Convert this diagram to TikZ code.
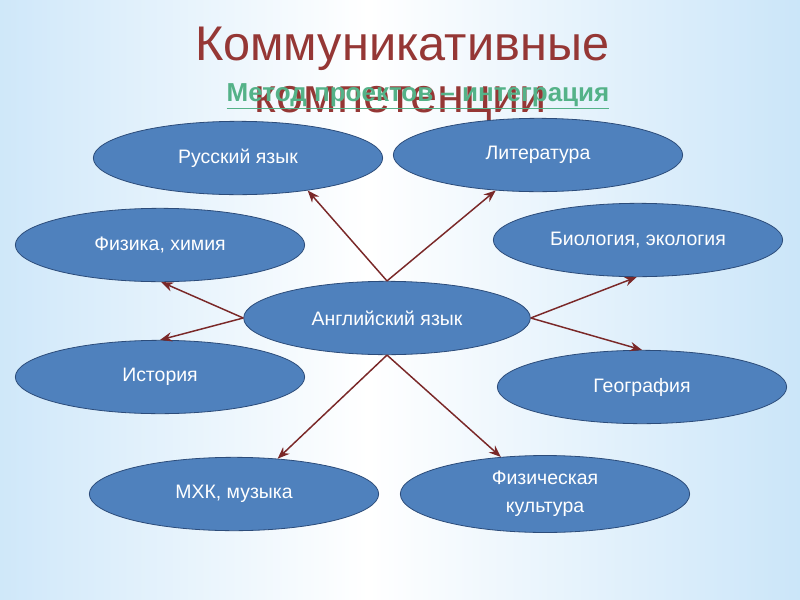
\documentclass[tikz,border=0pt]{standalone}
\usepackage{fontspec}
\setmainfont{Liberation Sans}
\usepackage{xcolor}
\usetikzlibrary{arrows.meta,shapes.geometric}
\definecolor{bgblu}{RGB}{155,206,243}
\definecolor{elfill}{RGB}{79,129,189}
\definecolor{eldraw}{RGB}{44,76,122}
\definecolor{arrred}{RGB}{122,40,40}
\definecolor{titred}{RGB}{149,55,53}
\definecolor{linkgrn}{RGB}{84,178,136}
\pgfdeclarehorizontalshading{bgshade}{100bp}{color(0bp)=(bgblu); color(48bp)=(white); color(100bp)=(bgblu)}
\tikzset{
  subj/.style={ellipse, fill=elfill, draw=eldraw, line width=0.6pt, text=white,
    minimum width=217pt, minimum height=55pt, font=\fontsize{14.6}{16}\selectfont, align=center},
  conn/.style={draw=arrred, line width=1.1pt, -{Stealth[length=9pt,width=7pt]}}
}

\begin{document}
\begin{tikzpicture}[x=0.75pt,y=0.75pt,yscale=-1,xscale=1]
		\useasboundingbox (0,0) rectangle (800,600);
		\shade [shading=bgshade] (0,0) rectangle (800,600);

		% title behind the ellipses
		\node (tit1) at (402,60) [anchor=base, text=titred, font=\fontsize{36.5}{36}\selectfont] {Коммуникативные};
		\node (tit2) at (401,112) [anchor=base, text=titred, font=\fontsize{36.5}{36}\selectfont] {компетенции};

		\node [subj] (rus) at (238,158) {Русский язык};
		\node [subj] (lit) at (538,155) {Литература};
		\node [subj] (phys) at (160,245) {Физика, химия};
		\node [subj] (bio) at (638,240) {Биология, экология};
		\node [subj, minimum width=215pt] (eng) at (387,318) {Английский язык};
		\node [subj] (hist) at (160,377) {История};
		\node [subj] (geo) at (642,387) {География};
		\node [subj] (mhk) at (234,494) {МХК, музыка};
		\node [subj] (fiz) at (545,494) {Физическая\\[5pt]культура};

		\node (link) at (418,101) [anchor=base, text=linkgrn, font=\fontsize{19.5}{20}\selectfont\bfseries] {\underline{Метод проектов – интеграция}};

		\draw [conn] (eng.north) -- (rus.-25);
		\draw [conn] (eng.north) -- (lit.220);
		\draw [conn] (eng.west) -- (phys.-88);
		\draw [conn] (eng.west) -- (hist.north);
		\draw [conn] (eng.east) -- (bio.-92);
		\draw [conn] (eng.east) -- (geo.north);
		\draw [conn] (eng.south) -- (mhk.39);
		\draw [conn] (eng.south) -- (fiz.140);
\end{tikzpicture}
\end{document}
